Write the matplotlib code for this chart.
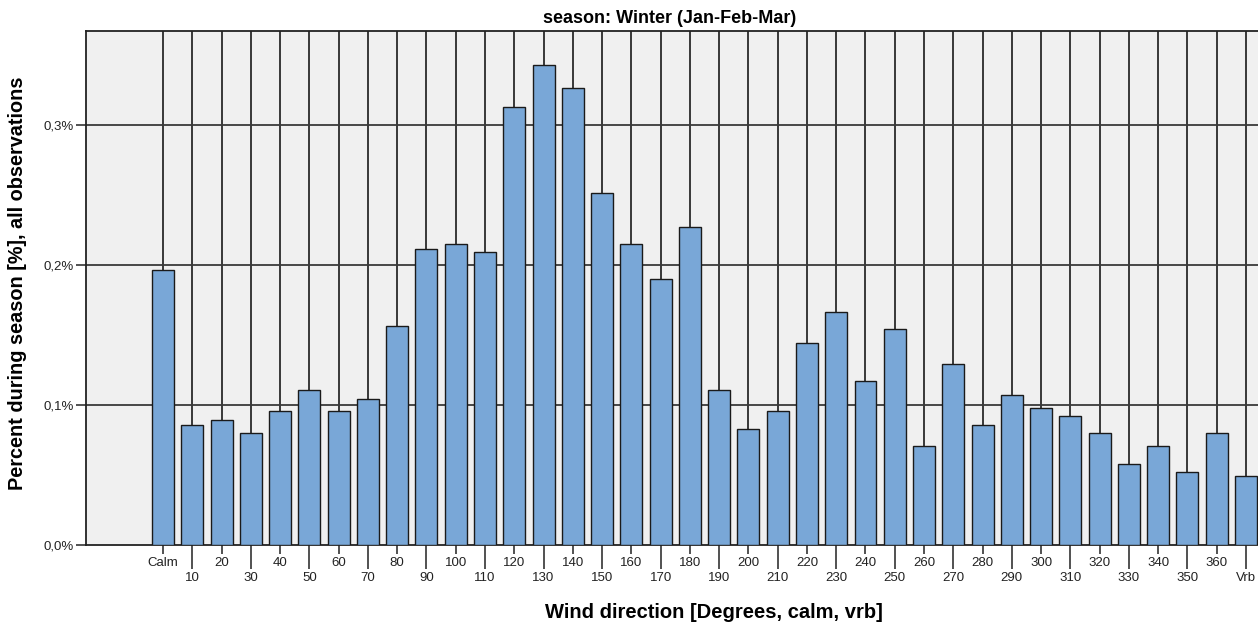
import numpy as np
import matplotlib.pyplot as plt
from matplotlib.ticker import FixedLocator, FuncFormatter

# Wind direction categories (Calm, 10..360, Vrb)
categories = ["Calm"] + [str(d) for d in range(10, 370, 10)] + ["Vrb"]

# Percent of observations during the season
percent = [
    0.196, 0.086, 0.089, 0.080, 0.096, 0.111, 0.096, 0.104, 0.156, 0.211,
    0.215, 0.209, 0.313, 0.343, 0.326, 0.251, 0.215, 0.190, 0.227, 0.111,
    0.083, 0.096, 0.144, 0.166, 0.117, 0.154, 0.071, 0.129, 0.086, 0.107,
    0.098, 0.092, 0.080, 0.058, 0.071, 0.052, 0.080, 0.049,
]

y_ticks = [0.0, 0.1, 0.2, 0.3]

title = "season: Winter (Jan-Feb-Mar)"
x_label = "Wind direction [Degrees, calm, vrb]"
y_label = "Percent during season [%], all observations"


def main():
    fig = plt.figure(figsize=(12.58, 6.28), dpi=100)
    ax = fig.add_axes([0.0684, 0.1322, 0.9316, 0.8185])
    ax.set_facecolor("#f0f0f0")

    x = np.arange(len(categories))
    ax.bar(x, percent, width=0.75, color="#79a7d7", edgecolor="#1a1a1a",
           linewidth=1.0, zorder=3)

    ax.set_xlim(-2.63, len(categories) - 1 + 0.41)
    ax.set_ylim(0, 0.367)

    # grid: one vertical line per category, horizontal at the y ticks
    for xi in x:
        ax.axvline(xi, color="#2a2a2a", linewidth=1.3, zorder=1)
    for yt in y_ticks[1:]:
        ax.axhline(yt, color="#3a3a3a", linewidth=1.3, zorder=1)

    # staggered x labels: even positions short ticks, odd positions long ticks
    ax.xaxis.set_major_locator(FixedLocator(x[::2]))
    ax.xaxis.set_minor_locator(FixedLocator(x[1::2]))
    ax.set_xticklabels(categories[::2])
    ax.set_xticklabels(categories[1::2], minor=True)
    ax.tick_params(axis="x", which="major", length=6.5, width=1.2,
                   color="#333333", pad=2, labelsize=9.5, labelcolor="#222222")
    ax.tick_params(axis="x", which="minor", length=17.5, width=1.2,
                   color="#333333", pad=2, labelsize=9.5, labelcolor="#222222")

    ax.set_yticks(y_ticks)
    ax.yaxis.set_major_formatter(
        FuncFormatter(lambda v, p: f"{v:.1f}%".replace(".", ",")))
    ax.tick_params(axis="y", length=7, width=1.2, color="#333333", pad=2,
                   labelsize=9.5, labelcolor="#222222")

    for side in ["left", "bottom", "top"]:
        ax.spines[side].set_color("#222222")
        ax.spines[side].set_linewidth(1.3)
    ax.spines["right"].set_visible(False)

    ax.text(0.498, 1.025, title, transform=ax.transAxes, ha="center",
            va="center", fontsize=13, fontweight="bold",
            family="Liberation Sans")
    ax.set_xlabel(x_label, fontsize=14.5, fontweight="bold",
                  family="Liberation Sans")
    ax.xaxis.set_label_coords(0.536, -0.113)
    ax.set_ylabel(y_label, fontsize=14.3, fontweight="bold",
                  family="Liberation Sans")
    ax.yaxis.set_label_coords(-0.050, 0.51)

    for lbl in ax.get_xticklabels(which="both") + ax.get_yticklabels():
        lbl.set_family("Liberation Sans")

    fig.savefig("out.png", dpi=100)


if __name__ == "__main__":
    main()
